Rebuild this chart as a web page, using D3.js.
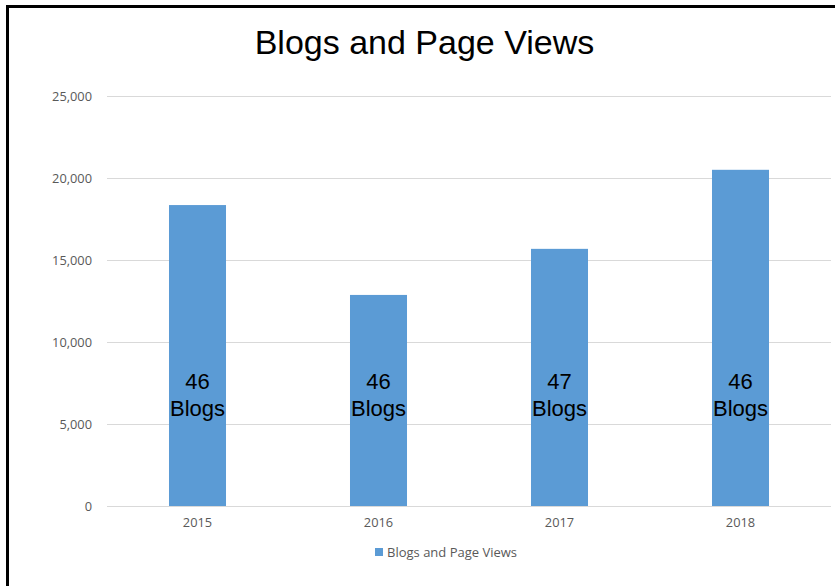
<!DOCTYPE html>
<html><head><meta charset="utf-8">
<script src="https://cdn.jsdelivr.net/npm/d3@7"></script>
<style>body{margin:0;background:#fff}svg{display:block}</style>
</head><body>
<svg id="c" width="835" height="586"></svg>
<script>
const categories = ["2015","2016","2017","2018"];
const pageViews = [18350, 12870, 15680, 20500];
const blogCounts = [46, 46, 47, 46];
const yTicks = [0, 5000, 10000, 15000, 20000, 25000];
const title = "Blogs and Page Views";
const seriesName = "Blogs and Page Views";

const svg = d3.select("#c");
const tfont = "'Liberation Sans', Arial, sans-serif";
const font = "'Open Sans', sans-serif";
svg.append("path").attr("d","M7.5,586 L7.5,6.5 L835,6.5").attr("fill","none")
  .attr("stroke","#000").attr("stroke-width",3);

const m = {l:107, r:831, t:96, b:506};
const x = d3.scaleBand().domain(categories).range([m.l, m.r]).paddingInner(0.685).paddingOuter(0.3425);
const y = d3.scaleLinear().domain([0,25000]).range([m.b, m.t]);

svg.append("text").attr("x",424.5).attr("y",54).attr("text-anchor","middle")
  .attr("font-family",tfont).attr("font-size",34).attr("fill","#000").text(title);

const yAxis = d3.axisLeft(y).tickValues(yTicks).tickSize(-(m.r-m.l)).tickFormat(d3.format(","));
const gy = svg.append("g").attr("transform",`translate(${m.l},0)`).call(yAxis);
gy.select(".domain").remove();
gy.selectAll(".tick line").attr("stroke","#d9d9d9").attr("stroke-width",1);
gy.selectAll(".tick text").attr("x",-15).attr("font-family",font).attr("font-size",12.8).attr("fill","#595959");

const xAxis = d3.axisBottom(x).tickSize(0);
const gx = svg.append("g").attr("transform",`translate(0,${m.b})`).call(xAxis);
gx.select(".domain").remove();
gx.selectAll(".tick text").attr("dy","1.05em").attr("y",8).attr("font-family",font).attr("font-size",12.8).attr("fill","#595959");

svg.selectAll("rect.bar").data(categories).join("rect").attr("class","bar")
  .attr("x",d=>x(d)).attr("width",x.bandwidth())
  .attr("y",(d,i)=>y(pageViews[i])).attr("height",(d,i)=>y(0)-y(pageViews[i]))
  .attr("fill","#5b9bd5");

const lbl = svg.selectAll("text.lbl").data(categories).join("text").attr("class","lbl")
  .attr("text-anchor","middle").attr("font-family",tfont).attr("font-size",22).attr("fill","#000");
lbl.append("tspan").attr("x",d=>x(d)+x.bandwidth()/2).attr("y",389).text((d,i)=>blogCounts[i]);
lbl.append("tspan").attr("x",d=>x(d)+x.bandwidth()/2).attr("y",416).text("Blogs");

const lg = svg.append("g");
lg.append("rect").attr("x",375).attr("y",548).attr("width",8).attr("height",8).attr("fill","#5b9bd5");
lg.append("text").attr("x",387).attr("y",556.5).attr("font-family",font).attr("font-size",13).attr("fill","#595959").text(seriesName);
</script>
</body></html>
